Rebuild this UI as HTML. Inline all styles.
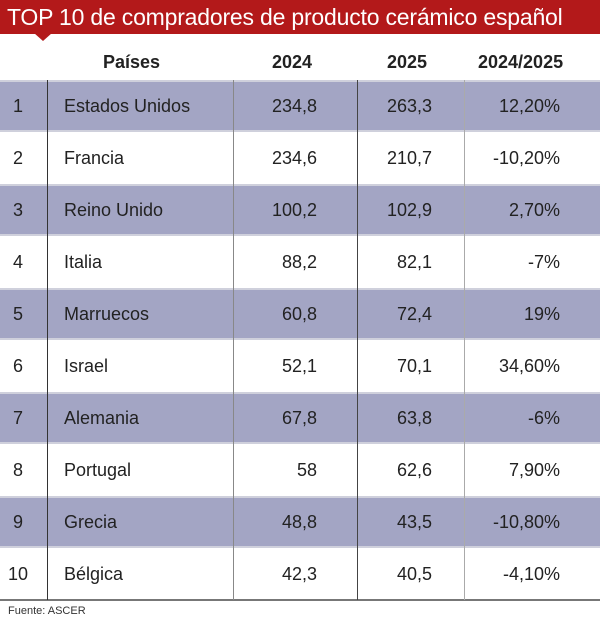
<!DOCTYPE html>
<html><head><style>
body{margin:0;width:600px;height:623px;background:#fff;font-family:"Liberation Sans",sans-serif;color:#222;position:relative;overflow:hidden}
.bar{position:absolute;left:0;top:0;width:600px;height:34px;background:#b3191a;color:#fff;font-size:23px;line-height:34px;padding-left:7px;box-sizing:border-box;letter-spacing:-0.2px;white-space:nowrap}
.tri{position:absolute;left:34px;top:33px;width:0;height:0;border-left:9px solid transparent;border-right:9px solid transparent;border-top:8px solid #b3191a}
.h{position:absolute;top:52px;font-weight:bold;font-size:18px}
.row{position:absolute;left:0;width:600px;height:52px;font-size:18px;line-height:52px}
.s{background:#a3a5c4;border-top:2px solid #cfd0dc;border-bottom:2px solid #cfd0dc;box-sizing:border-box;line-height:48px}
.row span{position:absolute}
.v{position:absolute;top:80px;height:520px;width:1px}
</style></head><body>
<div class="bar">TOP 10 de compradores de producto cerámico español</div>
<div class="tri"></div>
<div class="h" style="left:103px">Países</div>
<div class="h" style="left:272px">2024</div>
<div class="h" style="left:387px">2025</div>
<div class="h" style="left:478px">2024/2025</div>
<div class="row s" style="top:80px"><span style="left:13px">1</span><span style="left:64px">Estados Unidos</span><span style="right:283px">234,8</span><span style="right:168px">263,3</span><span style="right:40px">12,20%</span></div>
<div class="row" style="top:132px"><span style="left:13px">2</span><span style="left:64px">Francia</span><span style="right:283px">234,6</span><span style="right:168px">210,7</span><span style="right:40px">-10,20%</span></div>
<div class="row s" style="top:184px"><span style="left:13px">3</span><span style="left:64px">Reino Unido</span><span style="right:283px">100,2</span><span style="right:168px">102,9</span><span style="right:40px">2,70%</span></div>
<div class="row" style="top:236px"><span style="left:13px">4</span><span style="left:64px">Italia</span><span style="right:283px">88,2</span><span style="right:168px">82,1</span><span style="right:40px">-7%</span></div>
<div class="row s" style="top:288px"><span style="left:13px">5</span><span style="left:64px">Marruecos</span><span style="right:283px">60,8</span><span style="right:168px">72,4</span><span style="right:40px">19%</span></div>
<div class="row" style="top:340px"><span style="left:13px">6</span><span style="left:64px">Israel</span><span style="right:283px">52,1</span><span style="right:168px">70,1</span><span style="right:40px">34,60%</span></div>
<div class="row s" style="top:392px"><span style="left:13px">7</span><span style="left:64px">Alemania</span><span style="right:283px">67,8</span><span style="right:168px">63,8</span><span style="right:40px">-6%</span></div>
<div class="row" style="top:444px"><span style="left:13px">8</span><span style="left:64px">Portugal</span><span style="right:283px">58</span><span style="right:168px">62,6</span><span style="right:40px">7,90%</span></div>
<div class="row s" style="top:496px"><span style="left:13px">9</span><span style="left:64px">Grecia</span><span style="right:283px">48,8</span><span style="right:168px">43,5</span><span style="right:40px">-10,80%</span></div>
<div class="row" style="top:548px"><span style="left:8px">10</span><span style="left:64px">Bélgica</span><span style="right:283px">42,3</span><span style="right:168px">40,5</span><span style="right:40px">-4,10%</span></div>
<div style="position:absolute;left:0;top:599px;width:600px;height:2px;background:#777"></div>
<div class="v" style="left:47px;background:#333"></div>
<div class="v" style="left:233px;background:#888"></div>
<div class="v" style="left:357px;background:#444"></div>
<div class="v" style="left:464px;background:#aaa"></div>
<div style="position:absolute;left:8px;top:605px;font-size:11px;color:#333">Fuente: ASCER</div>
</body></html>
